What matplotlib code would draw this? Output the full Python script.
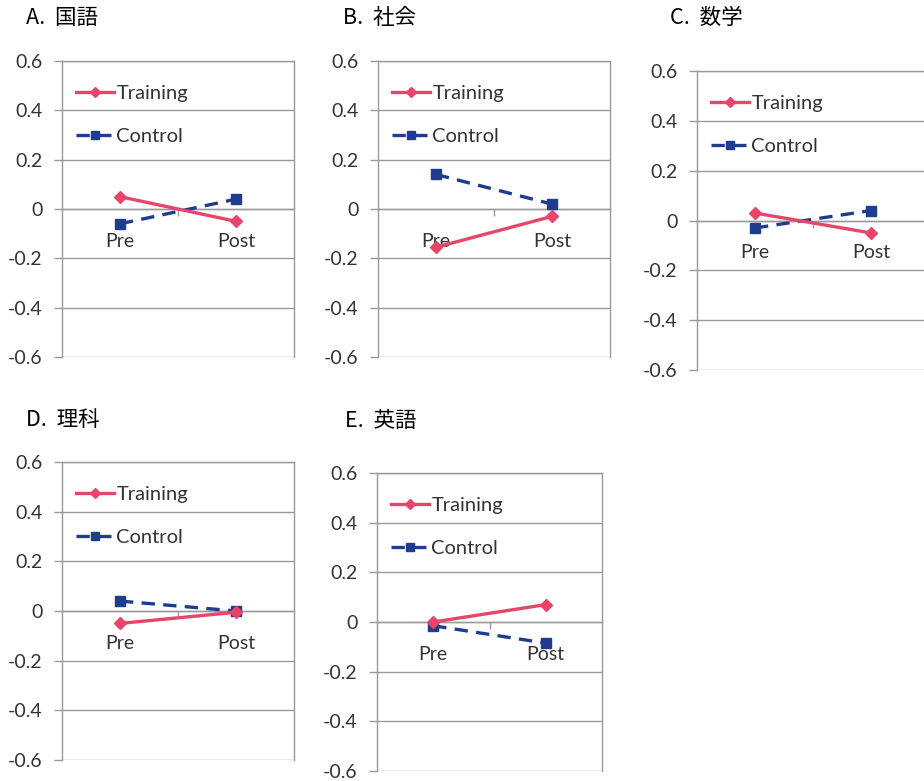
import matplotlib
matplotlib.use("Agg")
import matplotlib.pyplot as plt

plt.rcParams["font.family"] = ["Lato", "Noto Sans CJK JP", "DejaVu Sans"]

# data
phases = ["Pre", "Post"]
titles = ["A.  国語", "B.  社会", "C.  数学", "D.  理科", "E.  英語"]
training = [
    [0.05, -0.05],
    [-0.155, -0.03],
    [0.03, -0.05],
    [-0.05, -0.005],
    [0.0, 0.07],
]
control = [
    [-0.06, 0.04],
    [0.14, 0.02],
    [-0.03, 0.04],
    [0.04, 0.0],
    [-0.015, -0.085],
]
yticks = [0.6, 0.4, 0.2, 0, -0.2, -0.4, -0.6]
ytick_labels = ["0.6", "0.4", "0.2", "0", "-0.2", "-0.4", "-0.6"]

# panel boxes in pixels: left, right, top, bottom ; title x, title y
W, H = 924, 781
boxes = [
    (62, 294, 61, 357, 26, 18),
    (378, 610, 61, 357, 343, 18),
    (697, 929, 71, 370, 670, 18),
    (62, 294, 462, 760, 26, 420),
    (377, 602, 473, 771, 345, 421),
]

red = "#E8456B"
blue = "#1F3C8F"
grey = "#9A9A9A"
txt = "#333333"

fig = plt.figure(figsize=(W / 100, H / 100), dpi=100)

for k, (l, r, t, b, tx, ty) in enumerate(boxes):
    ax = fig.add_axes([l / W, 1 - b / H, (r - l) / W, (b - t) / H])
    x = range(len(phases))
    ax.plot(x, training[k], color=red, lw=2.4, marker="D", ms=6,
            label="Training", zorder=4)
    ax.plot(x, control[k], color=blue, lw=2.4, ls=(0, (4, 2.5)), marker="s",
            ms=7, label="Control", zorder=3)

    ax.set_xlim(-0.5, 1.5)
    ax.set_ylim(-0.6, 0.6)
    ax.set_yticks(yticks)
    ax.set_yticklabels(ytick_labels)
    ax.yaxis.grid(True, color=grey, lw=1)
    ax.set_axisbelow(True)
    ax.tick_params(axis="y", length=6, width=1, color=grey, pad=8,
                   labelsize=14, labelcolor=txt)

    ax.spines["bottom"].set_position(("data", 0))
    ax.set_xticks(list(x))
    ax.set_xticklabels(phases)
    ax.set_xticks([0.5], minor=True)
    ax.tick_params(axis="x", which="major", length=0, pad=17,
                   labelsize=14, labelcolor=txt)
    ax.tick_params(axis="x", which="minor", length=5, width=1, color=grey)
    for s in ["left", "right", "top", "bottom"]:
        ax.spines[s].set_color(grey)
        ax.spines[s].set_linewidth(1)

    leg = ax.legend(loc="upper left", bbox_to_anchor=(0.0, 0.968),
                    frameon=False, fontsize=14.5, handlelength=1.9,
                    handletextpad=0.1, labelspacing=1.3, borderaxespad=0.3,
                    markerscale=0.85)
    for t_ in leg.get_texts():
        t_.set_color(txt)

    fig.text(tx / W, 1 - ty / H, titles[k], fontsize=15.5, ha="left",
             va="center", family=["Noto Sans CJK JP", "DejaVu Sans"])

fig.savefig("out.png", dpi=100)
